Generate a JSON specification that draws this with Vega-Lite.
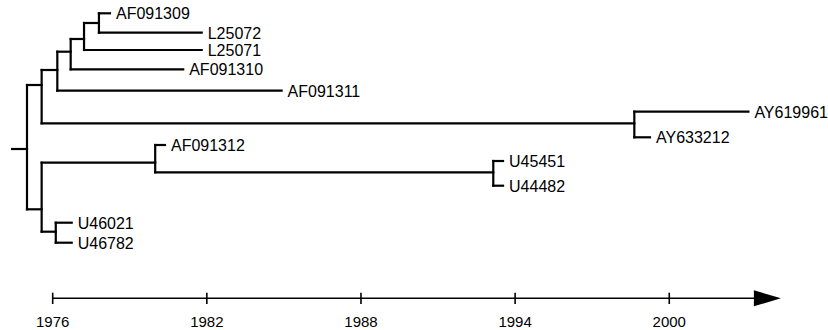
{
  "$schema": "https://vega.github.io/schema/vega-lite/v6.json",
  "width": 828,
  "height": 330,
  "padding": 0,
  "autosize": {"type": "fit", "contains": "padding"},
  "background": "white",
  "config": {"view": {"stroke": null}},
  "datasets": {
    "branches": [
      {"from": 1974.42, "to": 1975.0, "top": 149, "bottom": 149},
      {"from": 1975.0, "to": 1975.0, "top": 85, "bottom": 209.3},
      {"from": 1975.0, "to": 1975.57, "top": 85, "bottom": 85},
      {"from": 1975.57, "to": 1975.57, "top": 70, "bottom": 123.3},
      {"from": 1975.57, "to": 1976.18, "top": 70, "bottom": 70},
      {"from": 1975.57, "to": 1998.64, "top": 123.3, "bottom": 123.3},
      {"from": 1976.18, "to": 1976.18, "top": 51.7, "bottom": 90.7},
      {"from": 1976.18, "to": 1976.7, "top": 51.7, "bottom": 51.7},
      {"from": 1976.18, "to": 1984.91, "top": 90.7, "bottom": 90.7},
      {"from": 1976.7, "to": 1976.7, "top": 39, "bottom": 69.3},
      {"from": 1976.7, "to": 1977.22, "top": 39, "bottom": 39},
      {"from": 1976.7, "to": 1981.08, "top": 69.3, "bottom": 69.3},
      {"from": 1977.22, "to": 1977.22, "top": 23, "bottom": 50},
      {"from": 1977.22, "to": 1977.8, "top": 23, "bottom": 23},
      {"from": 1977.22, "to": 1981.8, "top": 50, "bottom": 50},
      {"from": 1977.8, "to": 1977.8, "top": 13.3, "bottom": 32.7},
      {"from": 1977.8, "to": 1978.23, "top": 13.3, "bottom": 13.3},
      {"from": 1977.8, "to": 1981.8, "top": 32.7, "bottom": 32.7},
      {"from": 1998.64, "to": 1998.64, "top": 111.7, "bottom": 137.3},
      {"from": 1998.64, "to": 2003.08, "top": 111.7, "bottom": 111.7},
      {"from": 1998.64, "to": 1999.25, "top": 137.3, "bottom": 137.3},
      {"from": 1975.0, "to": 1975.57, "top": 209.3, "bottom": 209.3},
      {"from": 1975.57, "to": 1975.57, "top": 162.7, "bottom": 231.7},
      {"from": 1975.57, "to": 1979.99, "top": 162.7, "bottom": 162.7},
      {"from": 1975.57, "to": 1976.12, "top": 231.7, "bottom": 231.7},
      {"from": 1979.99, "to": 1979.99, "top": 145, "bottom": 172.3},
      {"from": 1979.99, "to": 1980.37, "top": 145, "bottom": 145},
      {"from": 1979.99, "to": 1993.15, "top": 172.3, "bottom": 172.3},
      {"from": 1993.15, "to": 1993.15, "top": 161, "bottom": 185.7},
      {"from": 1993.15, "to": 1993.53, "top": 161, "bottom": 161},
      {"from": 1993.15, "to": 1993.53, "top": 185.7, "bottom": 185.7},
      {"from": 1976.12, "to": 1976.12, "top": 222.7, "bottom": 242.7},
      {"from": 1976.12, "to": 1976.74, "top": 222.7, "bottom": 222.7},
      {"from": 1976.12, "to": 1976.74, "top": 242.7, "bottom": 242.7}
    ],
    "leaves": [
      {"name": "AF091309", "year": 1978.23, "row": 13.3},
      {"name": "L25072", "year": 1981.8, "row": 32.7},
      {"name": "L25071", "year": 1981.8, "row": 50},
      {"name": "AF091310", "year": 1981.08, "row": 69.3},
      {"name": "AF091311", "year": 1984.91, "row": 90.7},
      {"name": "AY619961", "year": 2003.08, "row": 111.7},
      {"name": "AY633212", "year": 1999.25, "row": 137.3},
      {"name": "AF091312", "year": 1980.37, "row": 145},
      {"name": "U45451", "year": 1993.53, "row": 161},
      {"name": "U44482", "year": 1993.53, "row": 185.7},
      {"name": "U46021", "year": 1976.74, "row": 222.7},
      {"name": "U46782", "year": 1976.74, "row": 242.7}
    ],
    "ticks": [
      {"year": 1976, "label": "1976"},
      {"year": 1982, "label": "1982"},
      {"year": 1988, "label": "1988"},
      {"year": 1994, "label": "1994"},
      {"year": 2000, "label": "2000"}
    ]
  },
  "layer": [
    {
      "data": {"name": "branches"},
      "mark": {"type": "rule", "color": "black", "strokeWidth": 2.2, "strokeCap": "square"},
      "encoding": {
        "x": {"field": "from", "type": "quantitative", "scale": {"domain": [1973.949, 2006.179], "nice": false, "zero": false}, "axis": null},
        "x2": {"field": "to"},
        "y": {"field": "top", "type": "quantitative", "scale": {"domain": [0, 330], "reverse": true, "nice": false, "zero": false}, "axis": null},
        "y2": {"field": "bottom"}
      }
    },
    {
      "data": {"name": "leaves"},
      "mark": {"type": "text", "align": "left", "baseline": "middle", "dx": 6, "dy": 1, "font": "Liberation Sans", "fontSize": 16, "color": "black"},
      "encoding": {
        "x": {"field": "year", "type": "quantitative"},
        "y": {"field": "row", "type": "quantitative"},
        "text": {"field": "name"}
      }
    },
    {
      "data": {"values": [{"start": 1976, "end": 2003.3, "level": 298.3}]},
      "mark": {"type": "rule", "color": "black", "strokeWidth": 1.6},
      "encoding": {
        "x": {"field": "start", "type": "quantitative"},
        "x2": {"field": "end"},
        "y": {"field": "level", "type": "quantitative"}
      }
    },
    {
      "data": {"name": "ticks"},
      "mark": {"type": "rule", "color": "black", "strokeWidth": 1.6},
      "encoding": {
        "x": {"field": "year", "type": "quantitative"},
        "y": {"datum": 292.7, "type": "quantitative"},
        "y2": {"datum": 304}
      }
    },
    {
      "data": {"name": "ticks"},
      "mark": {"type": "text", "align": "center", "baseline": "middle", "font": "Liberation Sans", "fontSize": 15, "color": "black"},
      "encoding": {
        "x": {"field": "year", "type": "quantitative"},
        "y": {"datum": 321.7, "type": "quantitative"},
        "text": {"field": "label"}
      }
    },
    {
      "data": {"values": [{"year": 2003.82, "level": 298.3}]},
      "mark": {"type": "point", "shape": "M-1,-0.593L1,0L-1,0.593Z", "size": 729, "filled": true, "color": "black", "opacity": 1},
      "encoding": {
        "x": {"field": "year", "type": "quantitative"},
        "y": {"field": "level", "type": "quantitative"}
      }
    }
  ]
}
